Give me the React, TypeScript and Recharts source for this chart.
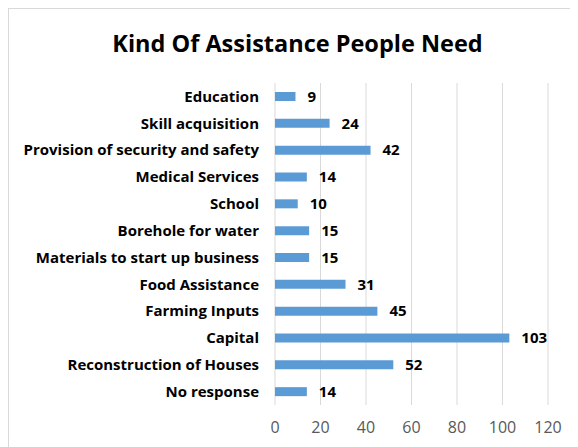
import { BarChart, Bar, XAxis, YAxis, CartesianGrid, LabelList } from "recharts";

const categories = [
  "Education",
  "Skill acquisition",
  "Provision of security and safety",
  "Medical Services",
  "School",
  "Borehole for water",
  "Materials to start up business",
  "Food Assistance",
  "Farming Inputs",
  "Capital ",
  "Reconstruction of Houses",
  "No response",
];

const counts = [9, 24, 42, 14, 10, 15, 15, 31, 45, 103, 52, 14];

const xTicks = [0, 20, 40, 60, 80, 100, 120];

const data = categories.map((name, i) => ({ name, value: counts[i] }));

const font = "'Open Sans', sans-serif";

export default function App() {
  return (
    <div
      style={{
        position: "relative",
        width: 569,
        height: 438,
        borderLeft: "1px solid #d9d9d9",
        borderTop: "1px solid #d9d9d9",
        fontFamily: font,
        background: "#fff",
      }}
    >
      <div
        style={{
          position: "absolute",
          left: 0,
          width: 577,
          top: 20,
          textAlign: "center",
          fontSize: 23.5,
          fontWeight: 700,
          color: "#000",
          lineHeight: "28px",
        }}
      >
        Kind Of Assistance People Need
      </div>
      <BarChart
        width={569}
        height={438}
        data={data}
        layout="vertical"
        margin={{ top: 74, right: 30, bottom: 12, left: 16 }}
        barCategoryGap={9}
      >
        <CartesianGrid horizontal={false} stroke="#d9d9d9" />
        <XAxis
          type="number"
          domain={[0, 120]}
          ticks={xTicks}
          axisLine={false}
          tickLine={false}
          height={30}
          tickMargin={11}
          tick={{ fill: "#595959", fontSize: 16, fontFamily: font }}
        />
        <YAxis
          type="category"
          dataKey="name"
          width={250}
          axisLine={false}
          tickLine={false}
          tickMargin={10}
          interval={0}
          tick={{ fill: "#000", fontSize: 15, fontWeight: 700, fontFamily: font }}
        />
        <Bar dataKey="value" fill="#5b9bd5" barSize={9} isAnimationActive={false}>
          <LabelList
            dataKey="value"
            position="right"
            offset={12}
            style={{ fill: "#000", fontSize: 15, fontWeight: 700, fontFamily: font }}
          />
        </Bar>
      </BarChart>
    </div>
  );
}
